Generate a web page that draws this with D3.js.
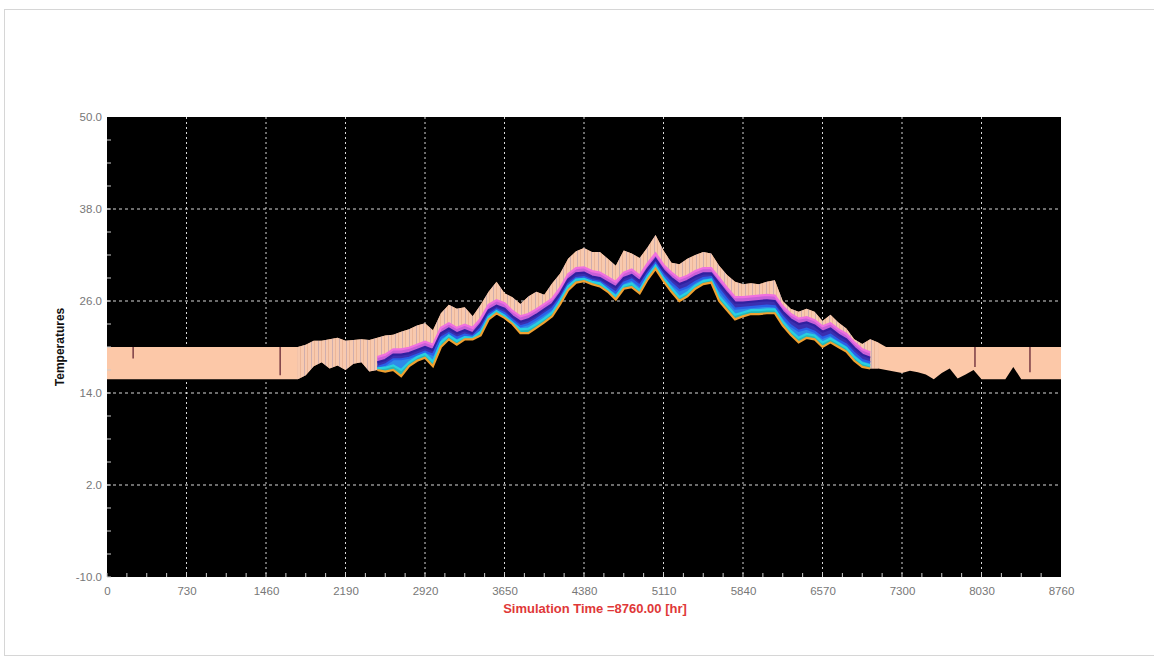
<!DOCTYPE html>
<html>
<head>
<meta charset="utf-8">
<script src="https://cdn.jsdelivr.net/npm/d3@7"></script>
<style>
  body { margin: 0; background: #fff; }
  svg { display: block; font-family: "Liberation Sans", Arial, sans-serif; }
</style>
</head>
<body>
<script>
// x / y tick values
const xTicks = [0, 730, 1460, 2190, 2920, 3650, 4380, 5110, 5840, 6570, 7300, 8030, 8760];
const yTicks = [-10, 2, 14, 26, 38, 50];

// sampled hours for the pale envelope (whole year)
const bandHours = [0,73,146,219,292,365,438,511,584,657,730,803,876,949,1022,1095,1168,1241,1314,1387,
  1460,1533,1606,1679,1752,1825,1898,1971,2044,2117,2190,2263,2336,2409,2482,2555,2628,2701,2774,2847,
  2920,2993,3066,3139,3212,3285,3358,3431,3504,3577,3650,3723,3796,3869,3942,4015,4088,4161,4234,4307,
  4380,4453,4526,4599,4672,4745,4818,4891,4964,5037,5110,5183,5256,5329,5402,5475,5548,5621,5694,5767,
  5840,5913,5986,6059,6132,6205,6278,6351,6424,6497,6570,6643,6716,6789,6862,6935,7008,7081,7154,7227,
  7300,7373,7446,7519,7592,7665,7738,7811,7884,7957,8030,8103,8176,8249,8322,8395,8468,8541,8614,8687,8760];

// upper envelope (max of all zones)
const bandTop = [20,20,20,20,20,20,20,20,20,20,20,20,20,20,20,20,20,20,20,20,20,20,20,20,
  20.0,20.3,20.8,20.8,21.0,21.2,20.8,20.9,21.0,20.9,21.2,21.5,21.6,22.0,22.3,22.8,
  23.1,22.2,24.4,25.5,25.0,25.2,24.0,25.5,27.2,28.5,27.0,26.5,25.6,26.6,27.2,26.8,
  28.3,29.6,31.5,32.5,32.9,32.4,32.4,31.5,30.6,32.6,32.2,31.6,33.0,34.6,32.6,31.0,
  30.8,31.5,32.0,32.4,32.2,30.6,29.4,28.5,28.2,28.3,28.2,28.5,28.7,26.0,25.0,24.6,
  25.0,24.6,23.4,24.2,23.2,22.4,21.0,20.4,21.0,20.6,
  20,20,20,20,20,20,20,20,20,20,20,20,20,20,20,20,20,20,20,20,20,20,20];

// lower envelope (min of all zones)
const bandLow = [15.8,15.8,15.8,15.8,15.8,15.8,15.8,15.8,15.8,15.8,15.8,15.8,15.8,15.8,15.8,15.8,15.8,15.8,15.8,15.8,15.8,15.8,15.8,15.8,
  15.8,16.3,17.5,18.0,17.2,17.6,17.0,17.8,18.0,16.8,17.0,16.8,17.0,16.2,17.5,18.2,
  18.6,17.5,20.0,21.0,20.3,21.0,21.0,21.5,23.6,24.4,23.8,23.0,21.8,21.8,22.5,23.2,
  24.0,25.6,27.4,28.4,28.6,28.2,27.9,27.2,26.2,27.6,27.8,27.0,28.8,30.2,28.6,27.2,
  26.0,26.6,27.6,28.2,28.4,26.0,24.8,23.6,24.0,24.3,24.3,24.4,24.4,22.8,21.6,20.6,
  21.2,21.0,20.0,20.6,20.0,19.4,18.2,17.4,17.2,17.2,
  17.0,16.8,16.6,16.9,16.7,16.4,15.8,16.6,17.2,15.9,16.4,17.0,15.8,15.8,15.8,15.8,17.4,15.8,15.8,15.8,15.8,15.8,15.8];

// hours where the zone temperatures leave the setpoint band
const zoneHours = [2482,2555,2628,2701,2774,2847,2920,2993,3066,3139,3212,3285,3358,3431,3504,3577,
  3650,3723,3796,3869,3942,4015,4088,4161,4234,4307,4380,4453,4526,4599,4672,4745,4818,4891,4964,5037,
  5110,5183,5256,5329,5402,5475,5548,5621,5694,5767,5840,5913,5986,6059,6132,6205,6278,6351,6424,6497,
  6570,6643,6716,6789,6862,6935,7008];

const zonePink = [18.7,19.0,19.7,19.7,19.9,20.3,20.7,20.3,22.5,23.1,22.5,22.9,22.5,23.7,25.5,26.1,
  25.7,24.7,24.0,24.3,24.9,25.6,26.3,27.7,29.5,30.3,30.4,29.9,29.7,29.1,28.5,29.7,30.1,29.3,30.9,32.2,
  30.7,29.7,28.9,29.3,29.9,30.3,30.3,29.0,27.7,26.5,26.5,26.6,26.7,26.8,26.7,25.3,24.3,23.7,23.9,23.5,
  22.7,23.1,22.3,21.7,20.6,19.7,19.3];
const zoneNavy = [18.0,18.3,19.0,19.0,19.2,19.6,20.0,19.6,21.8,22.4,21.8,22.2,21.8,23.0,24.8,25.4,
  25.0,24.0,23.3,23.6,24.2,24.9,25.6,27.0,28.8,29.6,29.7,29.2,29.0,28.4,27.8,29.0,29.4,28.6,30.2,31.5,
  30.0,29.0,28.2,28.6,29.2,29.6,29.6,28.3,27.0,25.8,25.8,25.9,26.0,26.1,26.0,24.6,23.6,23.0,23.2,22.8,
  22.0,22.4,21.6,21.0,19.9,19.0,18.6];
const zoneBlue = [17.4,17.7,18.4,18.4,18.6,19.0,19.4,19.0,21.2,21.8,21.2,21.6,21.4,22.4,24.2,24.9,
  24.4,23.5,22.7,23.0,23.6,24.3,25.0,26.4,28.2,29.0,29.1,28.7,28.5,27.8,27.1,28.4,28.8,28.0,29.6,30.9,
  29.4,28.3,27.4,27.8,28.5,29.0,29.1,27.5,26.2,25.0,25.1,25.2,25.3,25.4,25.3,23.9,22.8,22.1,22.4,22.0,
  21.2,21.6,20.9,20.3,19.2,18.3,18.0];
const zoneCyan = [17.2,17.3,17.6,17.0,18.0,18.7,19.1,18.1,20.6,21.5,20.8,21.3,21.2,22.0,23.9,24.7,
  24.1,23.2,22.3,22.4,23.0,23.7,24.5,26.1,27.9,28.8,28.9,28.5,28.3,27.5,26.6,28.0,28.3,27.4,29.2,30.6,
  29.0,27.7,26.5,27.1,28.0,28.6,28.8,26.6,25.4,24.2,24.5,24.8,24.8,24.9,24.9,23.3,22.1,21.2,21.7,21.5,
  20.6,21.1,20.5,19.9,18.7,17.9,17.6];
const zoneOrange = [17.0,16.8,17.0,16.2,17.5,18.2,18.6,17.5,20.0,21.0,20.3,21.0,21.0,21.5,23.6,24.4,
  23.8,23.0,21.8,21.8,22.5,23.2,24.0,25.6,27.4,28.4,28.6,28.2,27.9,27.2,26.2,27.6,27.8,27.0,28.8,30.2,
  28.6,27.2,26.0,26.6,27.6,28.2,28.4,26.0,24.8,23.6,24.0,24.3,24.3,24.4,24.4,22.8,21.6,20.6,21.2,21.0,
  20.0,20.6,20.0,19.4,18.2,17.4,17.2];

// short dips inside the winter band
const spikeHours = [240, 1590, 7970, 8475];
const spikeLows = [18.5, 16.3, 17.4, 16.7];
const spikeTop = 20;

const W = 1154, H = 659;
const margin = { top: 117, left: 107 };
const width = 954, height = 460;

const svg = d3.select('body').append('svg')
              .attr('width', W)
              .attr('height', H);

// outer panel
svg.append('rect')
   .attr('x', 4.5).attr('y', 9.5)
   .attr('width', W + 10).attr('height', 646)
   .attr('fill', '#fff')
   .attr('stroke', '#d6d6d6');

const defs = svg.append('defs');
const pat = defs.append('pattern')
                .attr('id', 'streak')
                .attr('patternUnits', 'userSpaceOnUse')
                .attr('width', 7).attr('height', 8);
pat.append('rect').attr('width', 7).attr('height', 8).attr('fill', '#f7c9b0');
pat.append('rect').attr('x', 1).attr('width', 1).attr('height', 8).attr('fill', '#c4a8b0');
pat.append('rect').attr('x', 4).attr('width', 1).attr('height', 8).attr('fill', '#e8b294');

const g = svg.append('g').attr('transform', `translate(${margin.left},${margin.top})`);

const x = d3.scaleLinear().domain([0, 8760]).range([0, width]);
const y = d3.scaleLinear().domain([-10, 50]).range([height, 0]);

g.append('rect').attr('width', width).attr('height', height).attr('fill', '#000');

// grid
g.append('g').selectAll('line')
 .data(xTicks.slice(1, -1))
 .join('line')
 .attr('x1', d => x(d)).attr('x2', d => x(d))
 .attr('y1', 0).attr('y2', height)
 .attr('stroke', '#d8d8d8')
 .attr('stroke-dasharray', '2,3');
g.append('g').selectAll('line')
 .data(yTicks.slice(1, -1))
 .join('line')
 .attr('y1', d => y(d)).attr('y2', d => y(d))
 .attr('x1', 0).attr('x2', width)
 .attr('stroke', '#d8d8d8')
 .attr('stroke-dasharray', '3,3');

// pale envelope
const band = bandHours.map((h, i) => ({ h, top: bandTop[i], low: bandLow[i] }));
const bandArea = d3.area()
                   .x(d => x(d.h))
                   .y0(d => y(d.low))
                   .y1(d => y(d.top));
g.append('path')
 .attr('d', bandArea(band))
 .attr('fill', '#fcc8a8');
g.append('path')
 .attr('d', bandArea(band.filter(d => d.h >= 1752 && d.h <= 7081)))
 .attr('fill', 'url(#streak)')
 .attr('opacity', 0.8);

// zone ribbons
const zones = [
  { vals: zonePink, fill: '#c860d8', stroke: '#f070e0' },
  { vals: zoneNavy, fill: '#3a2fb0', stroke: '#3020a0' },
  { vals: zoneBlue, fill: '#2f8ae8', stroke: '#2a60e8' },
  { vals: zoneCyan, fill: '#26b8b4', stroke: '#28d0e0' },
  { vals: zoneOrange, fill: null, stroke: '#f0a030' }
];
zones.forEach((z, k) => {
  if (k < zones.length - 1) {
    const next = zones[k + 1].vals;
    const a = d3.area()
                .x((d, i) => x(zoneHours[i]))
                .y0((d, i) => y(next[i]))
                .y1(d => y(d));
    g.append('path').attr('d', a(z.vals)).attr('fill', z.fill);
  }
});
zones.forEach(z => {
  const l = d3.line().x((d, i) => x(zoneHours[i])).y(d => y(d));
  g.append('path')
   .attr('d', l(z.vals))
   .attr('fill', 'none')
   .attr('stroke', z.stroke)
   .attr('stroke-width', 2.2);
});

// dips in the band
g.append('g').selectAll('line')
 .data(spikeHours)
 .join('line')
 .attr('x1', d => x(d)).attr('x2', d => x(d))
 .attr('y1', y(spikeTop))
 .attr('y2', (d, i) => y(spikeLows[i]))
 .attr('stroke', '#7a3c44')
 .attr('stroke-width', 1.5);

// minor ticks inside the frame
const xMinor = d3.range(0, 8760, 182.5);
g.append('g').selectAll('line')
 .data(xMinor)
 .join('line')
 .attr('x1', d => x(d)).attr('x2', d => x(d))
 .attr('y1', height).attr('y2', height - 4)
 .attr('stroke', '#ccc');
const yMinor = d3.range(-10, 50, 3);
g.append('g').selectAll('line')
 .data(yMinor)
 .join('line')
 .attr('y1', d => y(d)).attr('y2', d => y(d))
 .attr('x1', 0).attr('x2', 4)
 .attr('stroke', '#ccc');

// axes
const xAxis = g.append('g')
               .attr('transform', `translate(0,${height})`)
               .call(d3.axisBottom(x).tickValues(xTicks).tickFormat(d => String(d)).tickSize(0).tickPadding(10));
const yAxis = g.append('g')
               .call(d3.axisLeft(y).tickValues(yTicks).tickFormat(d => d.toFixed(1)).tickSize(0).tickPadding(5));
[xAxis, yAxis].forEach(a => {
  a.select('.domain').remove();
  a.selectAll('text')
   .attr('fill', '#777')
   .style('font-size', '11.5px')
   .style('font-family', '"Liberation Sans", Arial, sans-serif');
});

svg.append('text')
   .attr('transform', `translate(64,${margin.top + height / 2}) rotate(-90)`)
   .attr('text-anchor', 'middle')
   .attr('font-weight', 'bold')
   .attr('font-size', 12)
   .attr('fill', '#111')
   .text('Temperatures');

svg.append('text')
   .attr('x', 595)
   .attr('y', 613)
   .attr('text-anchor', 'middle')
   .attr('font-weight', 'bold')
   .attr('font-size', 13)
   .attr('fill', '#e03838')
   .text('Simulation Time =8760.00 [hr]');
</script>
</body>
</html>
